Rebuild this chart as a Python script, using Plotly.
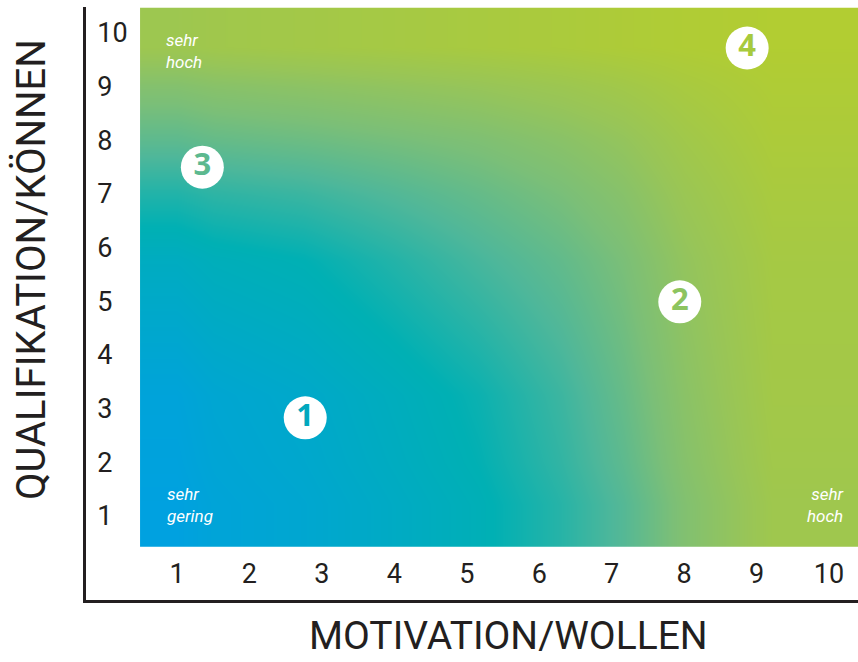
import plotly.graph_objects as go

# ---- data ----
tick_values = [1, 2, 3, 4, 5, 6, 7, 8, 9, 10]
tick_labels = ["1", "2", "3", "4", "5", "6", "7", "8", "9", "10"]

# background gradient: cell edges and colour position (0 = blue, 1 = yellow-green)
grad_x_edges = [0.49, 1.5, 4.0, 6.3, 8.0, 10.41]
grad_y_edges = [0.42, 2.0, 4.5, 7.0, 9.0, 10.47]
grad_z = [
    [0.02, 0.12, 0.28, 0.52, 0.85],
    [0.06, 0.16, 0.33, 0.58, 0.88],
    [0.22, 0.30, 0.48, 0.65, 0.90],
    [0.55, 0.60, 0.67, 0.78, 0.95],
    [0.84, 0.88, 0.92, 0.96, 0.99],
]
grad_colors = [
    [0.0, "#00A0E3"], [0.3, "#00B0B4"], [0.5, "#4FB79A"],
    [0.65, "#7BBF78"], [0.8, "#98C558"], [1.0, "#B3CD30"],
]

# numbered zones
zone_labels = ["1", "2", "3", "4"]
zone_x = [2.77, 7.94, 1.35, 8.87]
zone_y = [2.83, 4.99, 7.50, 9.72]
zone_text_colors = ["#00A8BE", "#8DC45F", "#5CB98F", "#A7CA3D"]

# corner notes
note_texts = ["sehr<br>hoch", "sehr<br>gering", "sehr<br>hoch"]
note_x = [1.10, 1.18, 9.95]
note_y = [9.67, 1.2, 1.2]

x_title = "MOTIVATION/WOLLEN"
y_title = "QUALIFIKATION/KÖNNEN"

narrow = "Liberation Sans Narrow, Roboto, sans-serif"
ink = "#231F20"

fig = go.Figure()
fig.add_trace(go.Heatmap(
    x=grad_x_edges, y=grad_y_edges, z=grad_z,
    colorscale=grad_colors, zmin=0, zmax=1, zsmooth="best",
    showscale=False, hoverinfo="skip",
))
fig.add_trace(go.Scatter(
    x=zone_x, y=zone_y, mode="markers+text", text=zone_labels,
    textposition="middle center",
    marker=dict(size=43, color="white", line=dict(width=0)),
    textfont=dict(family="Open Sans, Noto Sans, sans-serif", size=31,
                  color=zone_text_colors, weight="bold"),
    hoverinfo="skip", showlegend=False,
))

for t, xv, yv in zip(note_texts, note_x, note_y):
    fig.add_annotation(x=xv, y=yv, xref="x", yref="y", text=t, showarrow=False,
                       align="left" if xv < 5 else "right",
                       font=dict(family=narrow, size=17, color="white", style="italic"))

fig.update_layout(
    width=858, height=662,
    margin=dict(l=86, r=0, t=7, b=62),
    paper_bgcolor="white", plot_bgcolor="white",
    showlegend=False,
    xaxis=dict(range=[-0.256, 10.40], tickvals=tick_values, ticktext=tick_labels,
               showgrid=False, zeroline=False, showline=True, linewidth=2.5,
               linecolor=ink, ticks="", ticklabelposition="inside",
               ticklabelstandoff=14,
               tickfont=dict(family=narrow, size=27, color=ink), fixedrange=True),
    yaxis=dict(range=[-0.565, 10.484], tickvals=tick_values, ticktext=tick_labels,
               showgrid=False, zeroline=False, showline=True, linewidth=2.5,
               linecolor=ink, ticks="", ticklabelposition="inside",
               ticklabelstandoff=14,
               tickfont=dict(family=narrow, size=27, color=ink), fixedrange=True),
)

# axis titles placed by pixel position
fig.add_annotation(xref="paper", yref="paper", x=(509 - 86) / 772, y=-(661 - 600) / 593,
                   yanchor="bottom", xanchor="center", text=x_title, showarrow=False,
                   font=dict(family=narrow, size=39, color=ink))
fig.add_annotation(xref="paper", yref="paper", x=-(86 - 31) / 772, y=(600 - 270) / 593,
                   yanchor="middle", xanchor="center", text=y_title, showarrow=False,
                   textangle=-90, font=dict(family=narrow, size=40, color=ink))

fig.write_html("out.html", config={"displayModeBar": False},
               post_script="document.body.style.margin='0px';")
